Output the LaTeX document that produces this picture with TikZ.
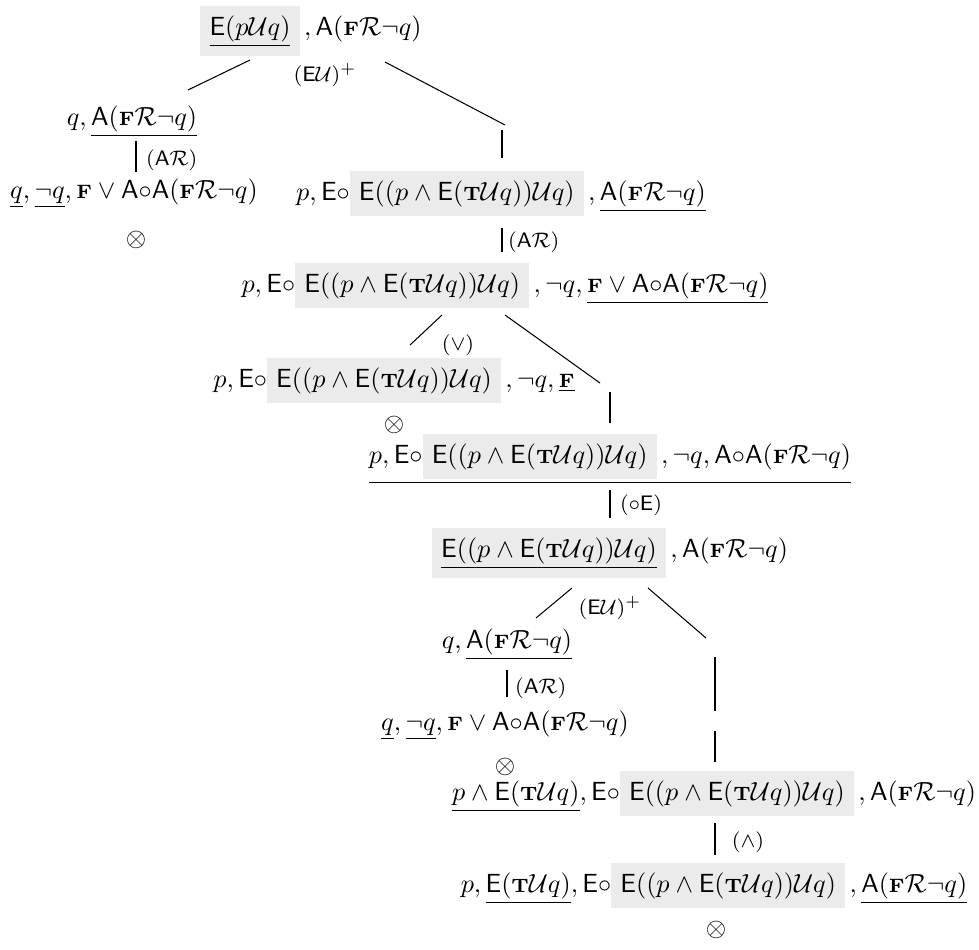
\documentclass[tikz,border=0pt]{standalone}
\usepackage{amsmath,amssymb}
\usepackage{xcolor}
\usepackage{tikz}
\usetikzlibrary{calc}

\definecolor{boxgray}{RGB}{235,235,235}
\newcommand{\grayhl}[1]{{\setlength{\fboxsep}{3.5pt}\colorbox{boxgray}{$#1$}}}
\newcommand{\cF}{\mbox{\fontsize{7.4}{8}\selectfont\bfseries F}}
\newcommand{\cT}{\mbox{\fontsize{7.4}{8}\selectfont\bfseries T}}
\newcommand{\Eop}{\mathsf{E}}
\newcommand{\Aop}{\mathsf{A}}
\newcommand{\nxt}{\mathord{\circ}}
\newcommand{\Uop}{\mathcal{U}}
\newcommand{\Rop}{\mathcal{R}}
\newcommand{\EUfix}{\Eop((p\wedge\Eop(\cT\Uop q))\Uop q)}
\newcommand{\Afix}{\Aop(\cF\Rop\neg q)}

\begin{document}
\begin{tikzpicture}[x=0.0134cm, y=-0.0134cm,
  seq/.style={anchor=base, inner sep=0pt},
  rule/.style={font=\footnotesize, inner sep=1pt}]
% one unit = one pixel of the 979 x 949 picture, y going down
\useasboundingbox (0,0) rectangle (979,949);
\node[seq] (root) at (311,35) {$\grayhl{\underline{\Eop(p\Uop q)}}\,, \Afix$};
\node[seq] (a1) at (132,125) {$q, \underline{\Afix}$};
\node[seq] (a2) at (134,198) {$\underline{q}, \underline{\neg q}, \cF\vee\Aop\nxt\Afix$};
\node (x1) at (136,240) {$\otimes$};
\node[seq] (b1) at (501,200) {$p, \Eop\nxt\grayhl{\EUfix}\,, \underline{\Afix}$};
\node[seq] (b2) at (505,292) {$p, \Eop\nxt\grayhl{\EUfix}\,, \neg q, \underline{\cF\vee\Aop\nxt\Afix}$};
\node[seq] (c1) at (394,387) {$p, \Eop\nxt\grayhl{\EUfix}\,, \neg q, \underline{\cF}$};
\node (x2) at (394,425) {$\otimes$};
\node[seq] (c2) at (610,463) {$\underline{p, \Eop\nxt\grayhl{\EUfix}\,, \neg q, \Aop\nxt\Afix}$};
\node[seq] (d0) at (610,557) {$\grayhl{\underline{\EUfix}}\,, \Afix$};
\node[seq] (d1) at (507,648) {$q, \underline{\Afix}$};
\node[seq] (d2) at (505,730) {$\underline{q}, \underline{\neg q}, \cF\vee\Aop\nxt\Afix$};
\node (x3) at (505,767) {$\otimes$};
\node[seq] (e1) at (714,800) {$\underline{p\wedge\Eop(\cT\Uop q)}, \Eop\nxt\grayhl{\EUfix}\,, \Afix$};
\node[seq] (e2) at (714,892) {$p, \underline{\Eop(\cT\Uop q)}, \Eop\nxt\grayhl{\EUfix}\,, \underline{\Afix}$};
\node (x4) at (716,930) {$\otimes$};

\draw ($(root.base)+(-61,25)$) -- ($(a1.base)+(56,-35)$);
\draw ($(root.base)+(74,27)$) -- ($(b1.base)+(4,-75)$);
\draw ($(b1.base)+(1,-70)$) -- ($(b1.base)+(1,-42)$);
\node[rule] (r1) at ($(root.base)+(14,40)$) {$(\Eop\Uop)^+$};
\draw ($(a1.base)+(4,16)$) -- ($(a2.base)+(2,-26)$);
\node[rule, anchor=west] (r2) at ($(a1.base)+(11,35)$) {$(\Aop\Rop)$};
\draw ($(b1.base)+(1,28)$) -- ($(b2.base)+(-3,-40)$);
\node[rule, anchor=west] (r3) at ($(b1.base)+(4,42)$) {$(\Aop\Rop)$};
\draw ($(b2.base)+(-63,23)$) -- ($(c1.base)+(16,-42)$);
\draw ($(b2.base)+(0,23)$) -- ($(c2.base)+(-10,-80)$);
\draw ($(c2.base)+(0,-71)$) -- ($(c2.base)+(0,-40)$);
\node[rule] (r4) at ($(b2.base)+(-47,53)$) {$(\vee)$};
\draw ($(c2.base)+(0,27)$) -- ($(d0.base)+(0,-39)$);
\node[rule, anchor=west] (r5) at ($(c2.base)+(7,42)$) {$(\nxt\Eop)$};
\draw ($(d0.base)+(-38,31)$) -- ($(d1.base)+(29,-30)$);
\draw ($(d0.base)+(38,31)$) -- ($(e1.base)+(-8,-162)$);
\draw ($(e1.base)+(1,-143)$) -- ($(e1.base)+(1,-89)$);
\draw ($(e1.base)+(1,-69)$) -- ($(e1.base)+(1,-38)$);
\node[rule] (r6) at ($(d0.base)+(0,51)$) {$(\Eop\Uop)^+$};
\draw ($(d1.base)+(0,22)$) -- ($(d2.base)+(2,-33)$);
\node[rule, anchor=west] (r7) at ($(d1.base)+(5,40)$) {$(\Aop\Rop)$};
\draw ($(e1.base)+(1,23)$) -- ($(e2.base)+(1,-37)$);
\node[rule] (r8) at ($(e1.base)+(34,42)$) {$(\wedge)$};
\end{tikzpicture}
\end{document}
